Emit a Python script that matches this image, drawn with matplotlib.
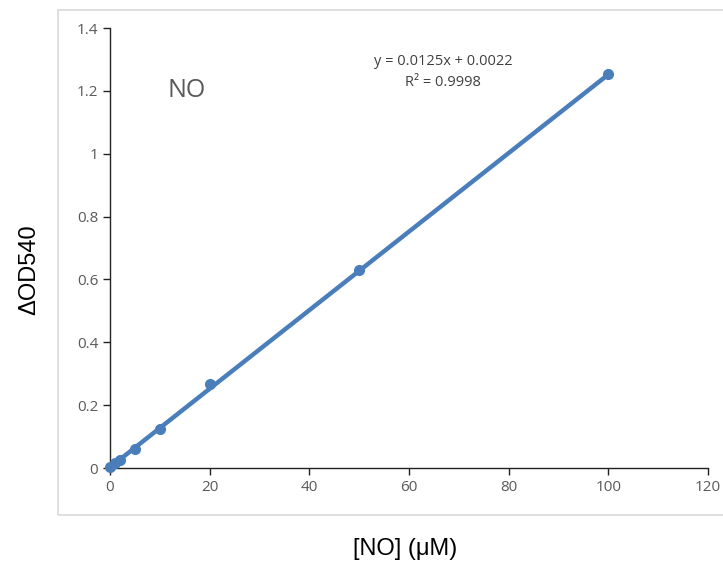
import matplotlib.pyplot as plt
import matplotlib.patches as patches
import numpy as np

plt.rcParams['font.family'] = ['Open Sans', 'DejaVu Sans']

# data
conc = [0, 1, 2, 5, 10, 20, 50, 100]
od540 = [0.002, 0.015, 0.027, 0.062, 0.123, 0.267, 0.630, 1.255]
slope = 0.0125
intercept = 0.0022
eq_text = 'y = 0.0125x + 0.0022'
r2_text = 'R² = 0.9998'
xticks = [0, 20, 40, 60, 80, 100, 120]
yticks = [0, 0.2, 0.4, 0.6, 0.8, 1.0, 1.2, 1.4]
ytick_labels = ['0', '0.2', '0.4', '0.6', '0.8', '1', '1.2', '1.4']

blue = '#4a7ebb'
grey = '#595959'

fig = plt.figure(figsize=(7.23, 5.62), dpi=100)

# light border of the excel chart area
border = patches.Rectangle((58 / 723, 1 - 515 / 562), 1.0, (515 - 10) / 562,
                           transform=fig.transFigure, fill=False,
                           edgecolor='#d9d9d9', linewidth=1.2, zorder=0)
fig.patches.append(border)

ax = fig.add_axes([110 / 723, 1 - 468 / 562, 598 / 723, 440 / 562])

# trendline
xfit = np.array([conc[0], conc[-1]])
ax.plot(xfit, slope * xfit + intercept, color=blue, linewidth=3.2,
        solid_capstyle='round', zorder=2)
ax.plot(conc, od540, 'o', color=blue, markersize=7, zorder=3, clip_on=False)

ax.set_xlim(0, 120)
ax.set_ylim(0, 1.4)
ax.set_xticks(xticks)
ax.set_yticks(yticks)
ax.set_yticklabels(ytick_labels)
for s in ['top', 'right']:
    ax.spines[s].set_visible(False)
for s in ['left', 'bottom']:
    ax.spines[s].set_color('#222222')
    ax.spines[s].set_linewidth(1.0)
ax.tick_params(axis='both', direction='out', length=5, width=1,
               colors='#222222', labelcolor=grey, labelsize=11)

ax.text(15.3, 1.2, 'NO', fontsize=18, color=grey, ha='center', va='center')
ax.text(66.8, 1.292, eq_text, fontsize=10.5, color='#404040', ha='center', va='center')
ax.text(66.8, 1.228, r2_text, fontsize=10.5, color='#404040', ha='center', va='center')

fig.text(29 / 723, 1 - 270 / 562, 'ΔOD540', rotation=90, ha='center', va='center',
         fontsize=17, family=['Liberation Sans', 'DejaVu Sans'])
fig.text(405 / 723, 1 - 549 / 562, '[NO] (μM)', ha='center', va='center',
         fontsize=17, family=['Liberation Sans', 'DejaVu Sans'])

fig.savefig('out.png', dpi=100)
